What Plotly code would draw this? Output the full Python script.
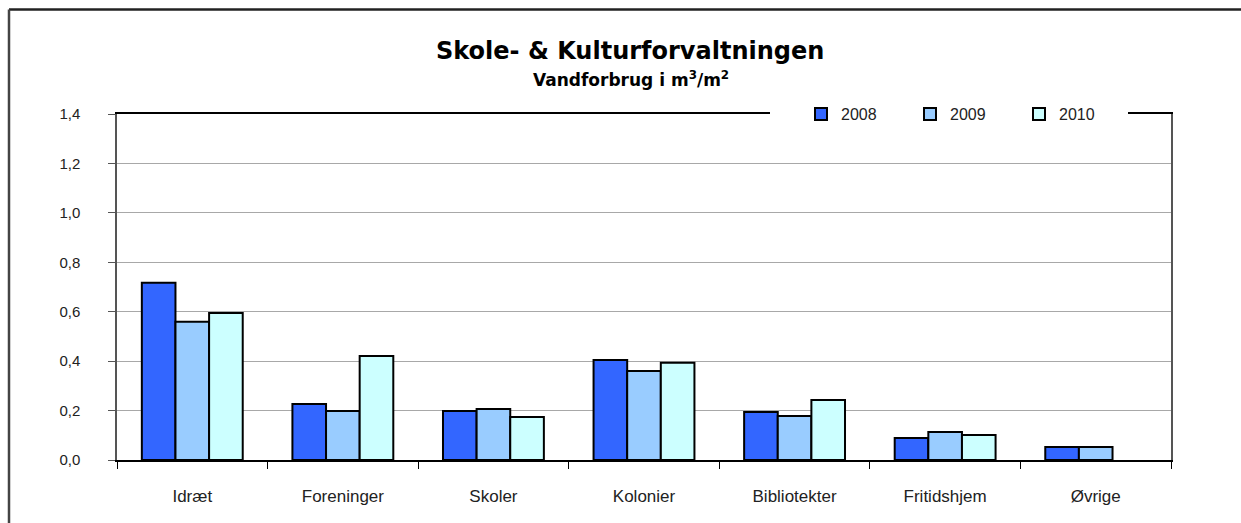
import plotly.graph_objects as go

categories = ["Idræt", "Foreninger", "Skoler", "Kolonier", "Bibliotekter", "Fritidshjem", "Øvrige"]
years = ["2008", "2009", "2010"]
v2008 = [0.717, 0.227, 0.198, 0.405, 0.194, 0.089, 0.053]
v2009 = [0.559, 0.198, 0.206, 0.360, 0.178, 0.113, 0.053]
v2010 = [0.595, 0.421, 0.174, 0.393, 0.243, 0.101, None]
colors = ["#3366FF", "#99CCFF", "#CCFFFF"]
y_ticks = [0, 0.2, 0.4, 0.6, 0.8, 1.0, 1.2, 1.4]
y_tick_labels = ["0,0", "0,2", "0,4", "0,6", "0,8", "1,0", "1,2", "1,4"]

W, H = 1241, 523
L, R, T, B = 117, 70, 114, 63
pw, ph = W - L - R, H - T - B

def px(xp):
    return (xp - L) / pw

def py(yp):
    return (H - B - yp) / ph

fig = go.Figure()
for name, vals, col in zip(years, [v2008, v2009, v2010], colors):
    fig.add_trace(go.Bar(
        x=categories, y=vals, name=name,
        marker=dict(color=col, line=dict(color="#000000", width=2)),
    ))

font = "Liberation Sans, Arial, sans-serif"
tfont = "DejaVu Sans, Verdana, sans-serif"
fig.update_layout(
    width=W, height=H,
    margin=dict(l=L, r=R, t=T, b=B, pad=0),
    paper_bgcolor="white", plot_bgcolor="white",
    barmode="group", bargap=0.33, bargroupgap=0,
    font=dict(family=font, size=15, color="#222222"),
    showlegend=True,
    legend=dict(
        orientation="h", x=px(801), y=py(114), xanchor="left", yanchor="middle",
        bgcolor="rgba(0,0,0,0)", borderwidth=0, font=dict(size=16, color="#222222"),
        itemwidth=30, entrywidth=64, entrywidthmode="pixels",
        traceorder="normal",
    ),
    xaxis=dict(
        type="category", tickson="boundaries", ticks="outside", ticklen=7,
        tickcolor="#000000", showline=True, linecolor="#000000", linewidth=1.5,
        mirror=True, showgrid=False, tickfont=dict(size=17, color="#222222"),
        ticklabelstandoff=20, fixedrange=True,
    ),
    yaxis=dict(
        range=[0, 1.4], tickvals=y_ticks, ticktext=y_tick_labels,
        ticks="outside", ticklen=7, tickcolor="#555555",
        showline=True, linecolor="#555555", linewidth=1.5, mirror=True,
        showgrid=True, gridcolor="#A8A8A8", gridwidth=1,
        zeroline=False, tickfont=dict(size=15, color="#222222"),
        ticklabelstandoff=25, fixedrange=True,
    ),
    shapes=[
        dict(type="line", xref="paper", yref="paper", x0=px(9), x1=px(W + 5), y0=py(9.5), y1=py(9.5),
             line=dict(color="#222222", width=2.5)),
        dict(type="line", xref="paper", yref="paper", x0=px(9), x1=px(9), y0=py(9.5), y1=py(H + 5),
             line=dict(color="#444444", width=2.5)),
        dict(type="rect", xref="paper", yref="paper", x0=px(770), x1=px(1128), y0=py(124), y1=py(104),
             fillcolor="white", line=dict(width=0), layer="above"),
    ],
    annotations=[
        dict(text="<b>Skole- & Kulturforvaltningen</b>", xref="paper", yref="paper",
             x=px(630), y=py(51), xanchor="center", yanchor="middle", showarrow=False,
             font=dict(family=tfont, size=24, color="#000000")),
        dict(text="<b>Vandforbrug i m<sup>3</sup>/m<sup>2</sup></b>", xref="paper", yref="paper",
             x=px(631), y=py(79), xanchor="center", yanchor="middle", showarrow=False,
             font=dict(family=tfont, size=17, color="#000000")),
    ],
)

fig.write_html("out.html", config={"displayModeBar": False},
               post_script="document.body.style.margin='0';document.body.style.padding='0';")
